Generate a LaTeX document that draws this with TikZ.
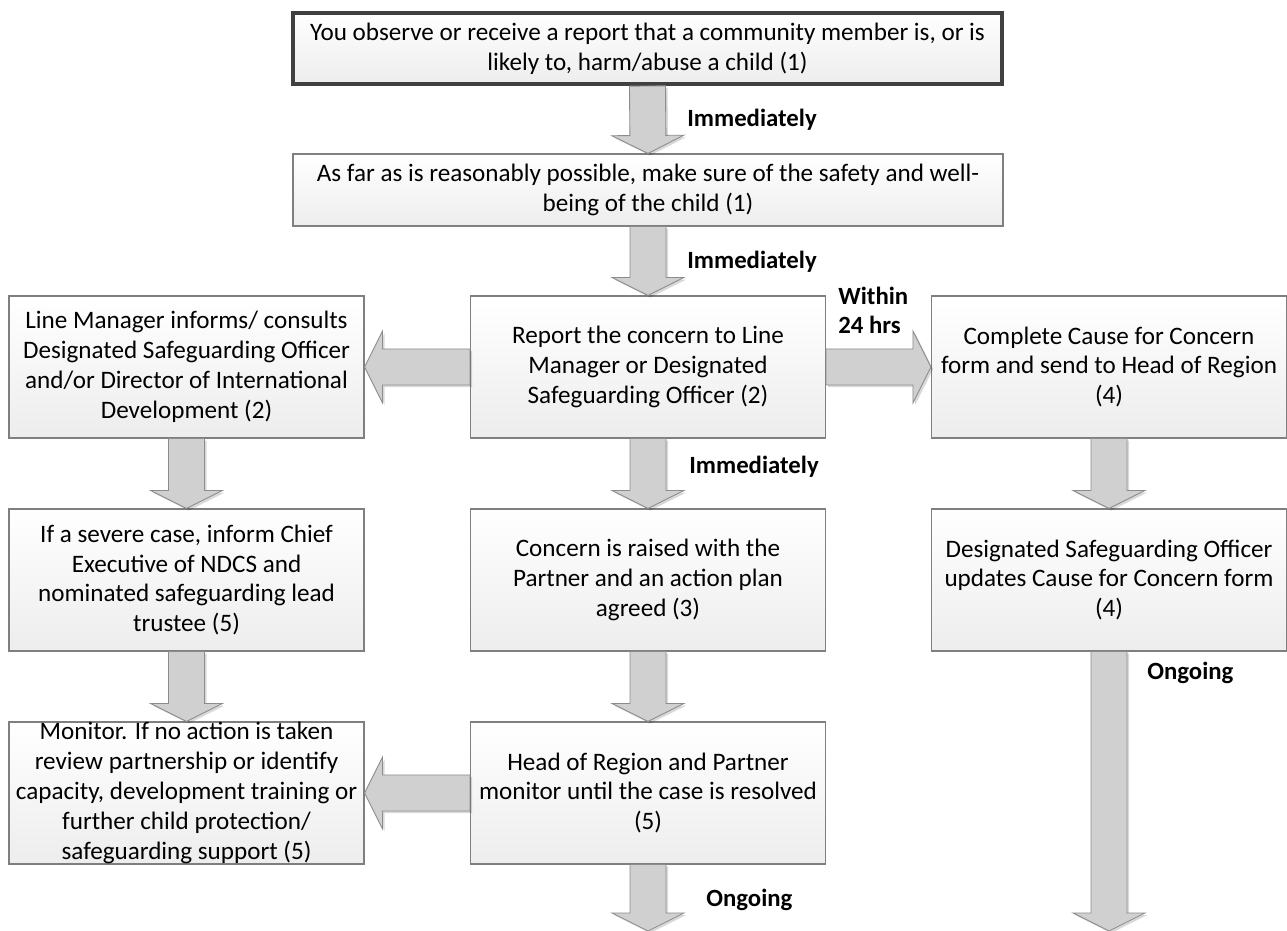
\documentclass[tikz,border=0pt]{standalone}
\usepackage{fontspec}
\setmainfont{Carlito}
\usepackage{tikz}
\usetikzlibrary{calc,positioning,shadows}

\definecolor{boxline}{HTML}{7F7F7F}
\definecolor{boxfill}{HTML}{EDEDED}
\definecolor{topline}{HTML}{404040}
\definecolor{arrowfill}{HTML}{D0D0D0}
\definecolor{arrowline}{HTML}{8C8C8C}

\tikzset{
    base/.style={font=\fontsize{14.3pt}{17pt}\selectfont, align=center, inner sep=0pt},
    box/.style={base, draw=boxline, line width=0.6pt, top color=white, bottom color=boxfill,
        minimum width=7.1cm, minimum height=2.84cm},
    widebox/.style={box, minimum width=14.2cm, minimum height=1.44cm},
    startbox/.style={widebox, draw=topline, line width=2.3pt, minimum width=14.18cm, minimum height=1.42cm},
    fat/.style={draw=arrowline, fill=arrowfill, line width=0.5pt,
        drop shadow={shadow xshift=1.2pt, shadow yshift=-1.2pt, fill=black, opacity=0.15}},
    when/.style={font=\fontsize{14.1pt}{16.5pt}\selectfont\bfseries, anchor=west, inner sep=0pt, align=left},
}

\newcommand{\fatarrow}[2]{%
    \draw[fat] let \p1=(#1), \p2=(#2),
        \n1={atan2(\y2-\y1,\x2-\x1)}, \n2={veclen(\x2-\x1,\y2-\y1)} in
        [shift={(\p1)}, rotate=\n1]
        (0pt,-10.24pt) -- ({\n2*1pt-10.24pt},-10.24pt) -- ({\n2*1pt-10.24pt},-20.48pt)
        -- ({\n2*1pt},0pt) -- ({\n2*1pt-10.24pt},20.48pt) -- ({\n2*1pt-10.24pt},10.24pt)
        -- (0pt,10.24pt) -- cycle;}

\begin{document}
\begin{tikzpicture}
    \useasboundingbox (0,0) rectangle (25.74,18.62);

    \node[startbox] (observe) at (12.95,17.65) {You observe or receive a report that a community member is, or is\\likely to, harm/abuse a child (1)};
    \node[widebox] (safety) at (12.96,14.82) {As far as is reasonably possible, make sure of the safety and well-\\being of the child (1)};

    \node[box] (informs) at (3.73,11.28) {Line Manager informs/ consults\\Designated Safeguarding Officer\\and/or Director of International\\Development (2)};
    \node[box] (report) at (12.96,11.28) {Report the concern to Line\\Manager or Designated\\Safeguarding Officer (2)};
    \node[box] (causeform) at (22.18,11.28) {Complete Cause for Concern\\form and send to Head of Region\\(4)};

    \node[box] (severe) at (3.73,7.02) {If a severe case, inform Chief\\Executive of NDCS and\\nominated safeguarding lead\\trustee (5)};
    \node[box] (raised) at (12.96,7.02) {Concern is raised with the\\Partner and an action plan\\agreed (3)};
    \node[box] (updates) at (22.18,7.02) {Designated Safeguarding Officer\\updates Cause for Concern form\\(4)};

    \node[box] (monitor) at (3.73,2.76) {Monitor. If no action is taken\\review partnership or identify\\capacity, development training or\\further child protection/\\safeguarding support (5)};
    \node[box] (headregion) at (12.96,2.76) {Head of Region and Partner\\monitor until the case is resolved\\(5)};

    \coordinate (endmid) at (12.96,0);
    \coordinate (endright) at (22.18,0);

    \fatarrow{observe.south}{safety.north}
    \fatarrow{safety.south}{report.north}
    \fatarrow{report.west}{informs.east}
    \fatarrow{report.east}{causeform.west}
    \fatarrow{report.south}{raised.north}
    \fatarrow{informs.south}{severe.north}
    \fatarrow{causeform.south}{updates.north}
    \fatarrow{severe.south}{monitor.north}
    \fatarrow{raised.south}{headregion.north}
    \fatarrow{headregion.west}{monitor.east}
    \fatarrow{headregion.south}{endmid}
    \fatarrow{updates.south}{endright}

    \node[when] (now1) at (13.74,16.22) {Immediately};
    \node[when] (now2) at (13.74,13.38) {Immediately};
    \node[when] (now3) at (13.78,9.28) {Immediately};
    \node[when] (within) at (16.76,12.41) {Within\\24 hrs};
    \node[when] (ongoing1) at (14.12,0.62) {Ongoing};
    \node[when] (ongoing2) at (22.94,5.16) {Ongoing};
\end{tikzpicture}
\end{document}
